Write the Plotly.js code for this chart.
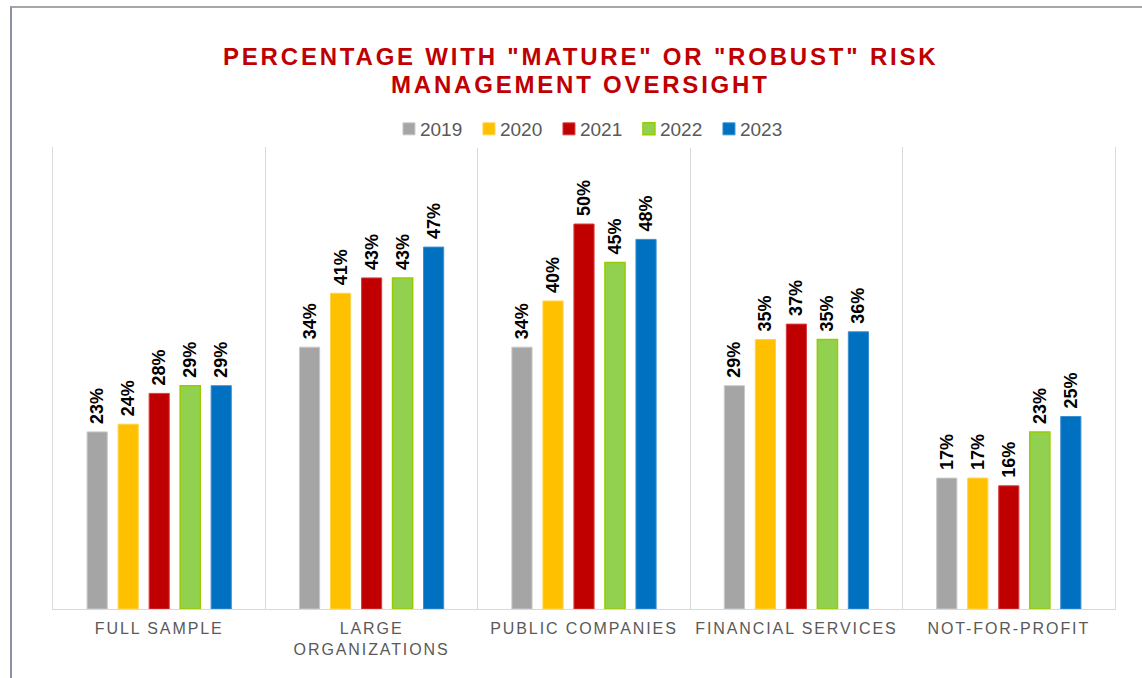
<!DOCTYPE html>
<html>
<head>
<meta charset="utf-8">
<script src="https://cdn.plot.ly/plotly-3.0.1.min.js"></script>
<style>
  body { margin: 0; background: #fff; }
  #wrap { position: relative; width: 1142px; height: 678px; }
  #chart { width: 1142px; height: 678px; }
  #frame { position: absolute; left: 10px; top: 6px; right: -2px; bottom: -2px;
           border-top: 2px solid #a6a6a6; border-left: 2px solid #8e93a3; pointer-events: none; }
  .annotation-text { letter-spacing: 2.8px; }
  .xtick text { letter-spacing: 1.9px; }
  .legendpoints { transform: translateX(9px); }
  .legend .scrollbox { clip-path: none !important; }
</style>
</head>
<body>
<div id="wrap">
  <div id="chart"></div>
  <div id="frame"></div>
</div>
<script>
const titleLines = ['PERCENTAGE WITH "MATURE" OR "ROBUST" RISK', 'MANAGEMENT OVERSIGHT'];
const categories = ["FULL SAMPLE", "LARGE<br>ORGANIZATIONS", "PUBLIC COMPANIES", "FINANCIAL SERVICES", "NOT-FOR-PROFIT"];
const years = ["2019", "2020", "2021", "2022", "2023"];
const v2019 = [23, 34, 34, 29, 17];
const v2020 = [24, 41, 40, 35, 17];
const v2021 = [28, 43, 50, 37, 16];
const v2022 = [29, 43, 45, 35, 23];
const v2023 = [29, 47, 48, 36, 25];
const seriesValues = [v2019, v2020, v2021, v2022, v2023];
const fillColors = ["#A5A5A5", "#FFC000", "#C00000", "#92D050", "#0070C0"];
const lineColors = ["#C8C8C8", "#FFD24D", "#D84040", "#99CC00", "#3A8FD0"];

const FONT = 'Arial, "Liberation Sans", sans-serif';

const traces = years.map((yr, i) => ({
  type: "bar",
  name: yr,
  x: categories,
  y: seriesValues[i],
  marker: { color: fillColors[i], line: { color: lineColors[i], width: i === 3 ? 1.5 : 1 } },
  text: seriesValues[i].map(v => "\u00A0" + v + "%"),
  textposition: "outside",
  textangle: -90,
  constraintext: "none",
  cliponaxis: false,
  textfont: { family: FONT, size: 18, color: "#000000", weight: "bold" },
  hoverinfo: "skip"
}));

const titleFont = { family: FONT, size: 24, color: "#C00000", weight: "bold" };

const layout = {
  width: 1142,
  height: 678,
  paper_bgcolor: "#ffffff",
  plot_bgcolor: "#ffffff",
  margin: { l: 53, r: 27, t: 147, b: 69, pad: 0 },
  font: { family: FONT },
  annotations: [
    { text: titleLines[0], xref: "paper", yref: "paper", x: 0.497, y: 1.197, height: 20,
      xanchor: "center", yanchor: "middle", showarrow: false, font: titleFont },
    { text: titleLines[1], xref: "paper", yref: "paper", x: 0.497, y: 1.1364, height: 20,
      xanchor: "center", yanchor: "middle", showarrow: false, font: titleFont }
  ],
  barmode: "group",
  bargap: 0.27,
  bargroupgap: 0.35,
  showlegend: true,
  legend: {
    orientation: "h",
    x: 0.4962, xanchor: "center",
    y: 1.039, yanchor: "middle",
    font: { family: FONT, size: 19, color: "#595959" },
    itemwidth: 30,
    entrywidth: 35,
    entrywidthmode: "pixels",
    traceorder: "normal"
  },
  xaxis: {
    type: "category",
    tickson: "boundaries",
    showgrid: true,
    gridcolor: "#D9D9D9",
    gridwidth: 1,
    ticks: "",
    ticklabelstandoff: 5,
    showline: true,
    linecolor: "#D9D9D9",
    linewidth: 1,
    tickfont: { family: FONT, size: 16, color: "#595959" },
    fixedrange: true
  },
  yaxis: {
    range: [0, 60],
    showgrid: false,
    zeroline: false,
    showticklabels: false,
    ticks: "",
    showline: true,
    mirror: true,
    linecolor: "#D9D9D9",
    linewidth: 1,
    fixedrange: true
  }
};

Plotly.newPlot("chart", traces, layout, { displayModeBar: false, staticPlot: true });
</script>
</body>
</html>
